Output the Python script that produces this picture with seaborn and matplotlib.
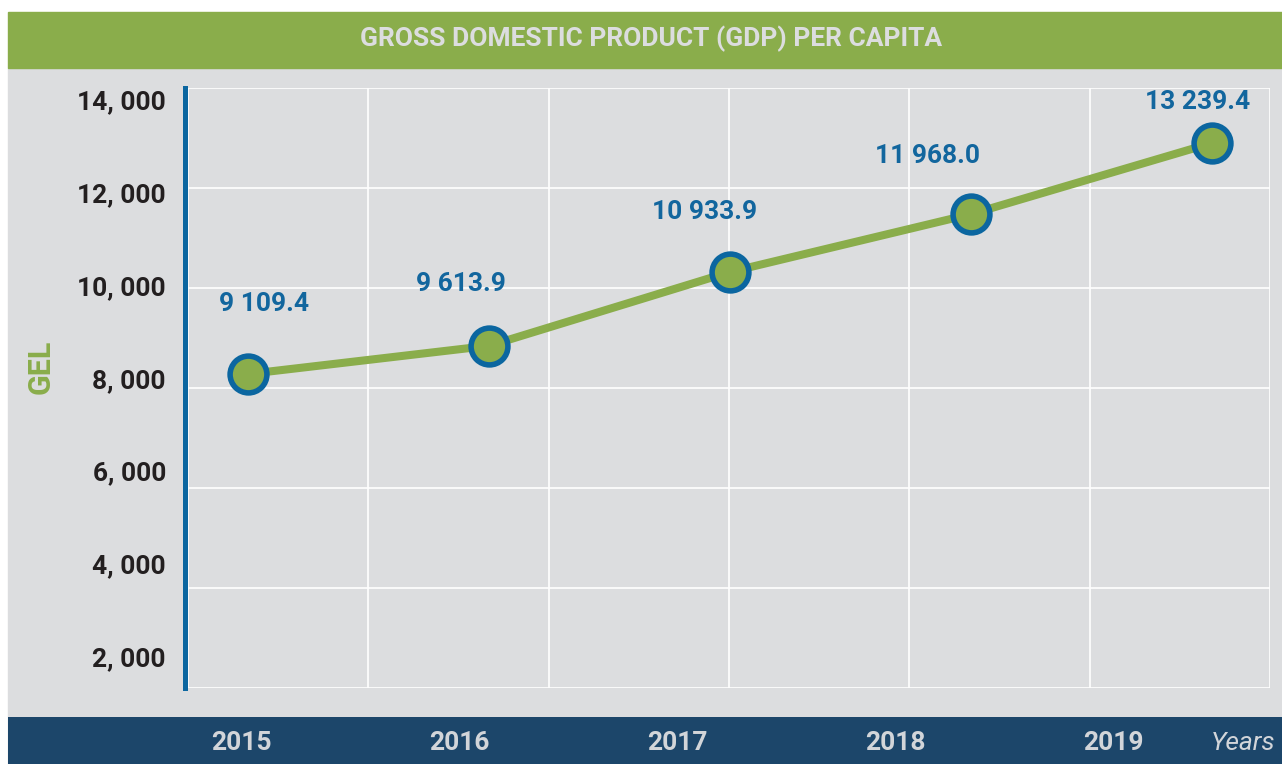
import numpy as np
import matplotlib
matplotlib.use("Agg")
import matplotlib.pyplot as plt
import seaborn as sns
from matplotlib.patches import Rectangle

# data
years = [2015, 2016, 2017, 2018, 2019]
gdp_per_capita = [9109.4, 9613.9, 10933.9, 11968.0, 13239.4]
gel_ticks = [2000, 4000, 6000, 8000, 10000, 12000, 14000]
title = "GROSS DOMESTIC PRODUCT (GDP) PER CAPITA"

GREEN = "#8AAD4B"
BLUE = "#0B66A0"
NAVY = "#1C466A"
GRAY = "#DCDDDF"
PALE = "#D2D5D9"
LABEL_BLUE = "#12669E"
DARK = "#231F20"

W, H = 1282, 764


def fx(px):
    return px / W


def fy(px):
    # pixel measured from the top -> figure fraction
    return 1 - px / H


sns.set_theme(style="whitegrid")
plt.rcParams["font.family"] = ["Roboto", "DejaVu Sans"]

fig = plt.figure(figsize=(W / 100, H / 100), dpi=100, facecolor="white")

# background bands
fig.add_artist(Rectangle((fx(8), 0), 1 - fx(8), fy(68), transform=fig.transFigure,
                         color=GRAY, zorder=0))
fig.add_artist(Rectangle((fx(8), fy(68)), 1 - fx(8), fy(12) - fy(68),
                         transform=fig.transFigure, color=GREEN, zorder=0))
fig.text(fx(651), fy(39), title, ha="center", va="center", fontsize=19,
         fontweight="bold", color=GRAY)

# main plot
ax = fig.add_axes([fx(185), fy(688), fx(1270) - fx(185), fy(88) - fy(688)])
ax.set_facecolor(GRAY)
sns.lineplot(x=years, y=gdp_per_capita, ax=ax, color=GREEN, linewidth=5.8,
             marker="o", markersize=26.5, markerfacecolor=GREEN,
             markeredgecolor=BLUE, markeredgewidth=4.0, clip_on=False, zorder=3)
ax.set_xlim(2014.7386, 2019.2407)
ax.set_ylim(3495, 14223)
x0, x1 = ax.get_xlim()
ax.set_xticks(np.linspace(x0 + 0.012, x1, 7))
ax.set_yticks(np.linspace(*ax.get_ylim(), 7))
ax.set_xticklabels([])
ax.set_yticklabels([])
ax.tick_params(length=0)
ax.grid(True, color="white", linewidth=1.2)
ax.set(xlabel="", ylabel="")
for side in ["top", "right", "bottom"]:
    ax.spines[side].set_visible(False)
ax.spines["left"].set_color(BLUE)
ax.spines["left"].set_linewidth(3.6)
ax.spines["left"].set_zorder(4)

label_offsets = [(16, -70), (-28, -62), (-25, -60), (-43, -58), (-14, -41)]
for yr, v, (dx, dy) in zip(years, gdp_per_capita, label_offsets):
    ax.annotate(f"{v:,.1f}".replace(",", " "), (yr, v),
                xytext=(dx * 0.72, -dy * 0.72), textcoords="offset points",
                ha="center", va="center", fontsize=19, fontweight="bold",
                color=LABEL_BLUE)

# value axis labels (own scale, as in the source graphic)
ax2 = ax.twinx()
ax2.set_ylim(1325, 14259)
ax2.set_yticks(gel_ticks)
ax2.set_yticklabels([f"{t:,}".replace(",", ", ") for t in gel_ticks])
ax2.yaxis.set_ticks_position("left")
ax2.tick_params(axis="y", length=0, pad=13.7, labelsize=19, labelcolor=DARK)
for lab in ax2.get_yticklabels():
    lab.set_fontweight("bold")
ax2.grid(False)
for side in ax2.spines:
    ax2.spines[side].set_visible(False)

fig.text(fx(41), fy(367), "GEL", rotation=90, ha="center", va="center",
         fontsize=22, fontweight="bold", color=GREEN)

# bottom band with the years
band = fig.add_axes([fx(8), 0, 1 - fx(8), fy(717)])
band.set_facecolor(NAVY)
band.set_xlim(2013.931, 2019.775)
band.set_ylim(0, 1)
band.grid(False)
band.set_xticks([])
band.set_yticks([])
for side in band.spines:
    band.spines[side].set_visible(False)
for yr in years:
    band.text(yr, 0.5, str(yr), ha="center", va="center_baseline", fontsize=19,
              fontweight="bold", color=PALE)
band.text(0.995, 0.5, "Years", transform=band.transAxes, ha="right",
          va="center_baseline", fontsize=19, fontstyle="italic", color=PALE)

fig.savefig("out.png", dpi=100, facecolor="white")
